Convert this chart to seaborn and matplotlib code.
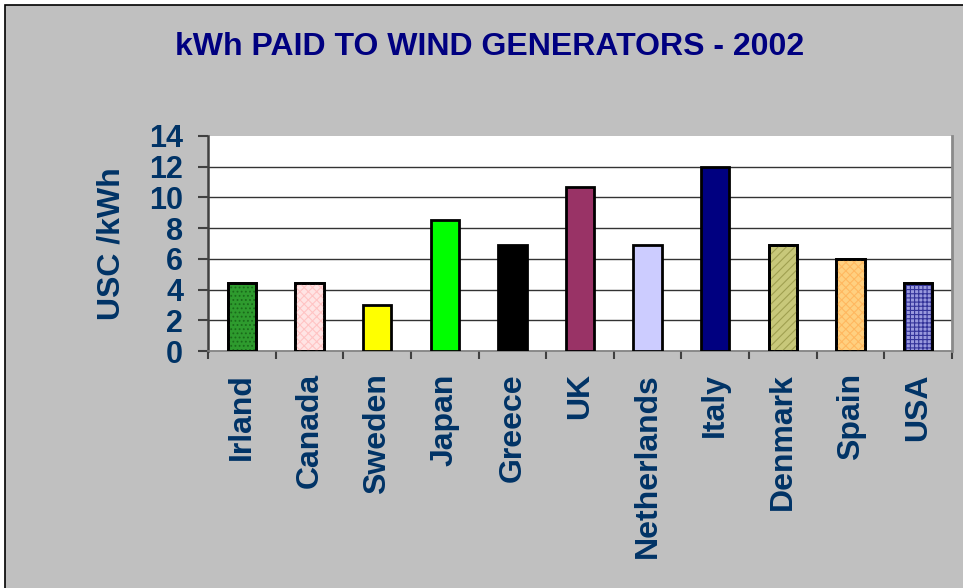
import matplotlib
matplotlib.use("Agg")
import numpy as np
import pandas as pd
import seaborn as sns
import matplotlib.pyplot as plt
from matplotlib.patches import Rectangle

# chart data
countries = ["Irland", "Canada", "Sweden", "Japan", "Greece", "UK",
             "Netherlands", "Italy", "Denmark", "Spain", "USA"]
usc_per_kwh = [4.4, 4.4, 3.0, 8.5, 6.9, 10.7, 6.9, 12.0, 6.9, 6.0, 4.4]

bar_colors = ["#2E9B2E", "#FFE4E4", "#FFFF00", "#00FF00", "#000000", "#993366",
              "#CCCCFF", "#000080", "#C8C87A", "#FFD080", "#9999DD"]
hatches = ["....", "xxxx", "", "", "", "", "", "", "////", "xxxx", "++++"]
hatch_colors = ["#1A6B1A", "#FFC4C4", None, None, None, None, None, None,
                "#A0A050", "#FFB860", "#333399"]

sns.set_theme(style="white")
plt.rcParams["font.family"] = ["Liberation Sans", "DejaVu Sans"]
plt.rcParams["hatch.linewidth"] = 0.8

df = pd.DataFrame({"country": countries, "usc": usc_per_kwh})

fig = plt.figure(figsize=(9.63, 5.88), dpi=100, facecolor="white")
# grey chart area with black frame
fig.patches.append(Rectangle((5 / 963, -0.1), 1.1, 1.1 - 5 / 588,
                             transform=fig.transFigure, facecolor="#C0C0C0",
                             edgecolor="black", lw=1.2, zorder=-10))

ax = fig.add_axes([0.216, 0.403, 0.7726, 0.366])
ax.set_facecolor("white")
ax.set_axisbelow(True)

sns.barplot(data=df, x="country", y="usc", hue="country",
            palette=dict(zip(countries, bar_colors)), legend=False,
            width=0.42, saturation=1, edgecolor="black", linewidth=2,
            ax=ax, zorder=3)

# pattern fills on a few bars
for bar, h, hc in zip(ax.patches[:len(countries)], hatches, hatch_colors):
    if h:
        ax.add_patch(Rectangle(bar.get_xy(), bar.get_width(), bar.get_height(),
                               fill=False, hatch=h, edgecolor=hc, lw=0, zorder=3.5))
        ax.add_patch(Rectangle(bar.get_xy(), bar.get_width(), bar.get_height(),
                               fill=False, edgecolor="black", lw=2, zorder=4))

ax.set_ylim(0, 14)
ax.set_xlim(-0.5, len(countries) - 0.5)
ax.set_yticks(range(0, 15, 2))
ax.yaxis.grid(True, color="#333333", lw=1)
ax.yaxis.get_gridlines()[-1].set_visible(False)

ax.spines["top"].set_visible(False)
ax.spines["left"].set_color("#404040")
ax.spines["left"].set_linewidth(1.8)
ax.spines["bottom"].set_color("#808080")
ax.spines["bottom"].set_linewidth(1.2)
ax.spines["right"].set_color("#8A8A8A")
ax.spines["right"].set_linewidth(2)

ax.tick_params(axis="y", direction="out", length=7, width=1.5, color="#404040",
               pad=11, labelsize=22, labelcolor="#003366", left=True)
ax.set_xticks(np.arange(-0.5, len(countries), 1), minor=True)
ax.tick_params(axis="x", which="major", length=0, pad=16, labelsize=23,
               labelcolor="#003366", labelrotation=90)
ax.tick_params(axis="x", which="minor", direction="out", length=6, width=1.5,
               color="#404040", bottom=True)
for lbl in ax.get_xticklabels() + ax.get_yticklabels():
    lbl.set_fontweight("bold")

ax.set_xlabel("")
ax.set_ylabel("USC /kWh", fontsize=23, fontweight="bold", color="#003366",
              labelpad=16)

fig.text(0.508, 0.92, "kWh PAID TO WIND GENERATORS - 2002", ha="center",
         va="center", fontsize=23, fontweight="bold", color="#000080",
         family=["Liberation Sans Narrow", "Liberation Sans", "DejaVu Sans"])

fig.savefig("out.png", dpi=100, facecolor=fig.get_facecolor())
